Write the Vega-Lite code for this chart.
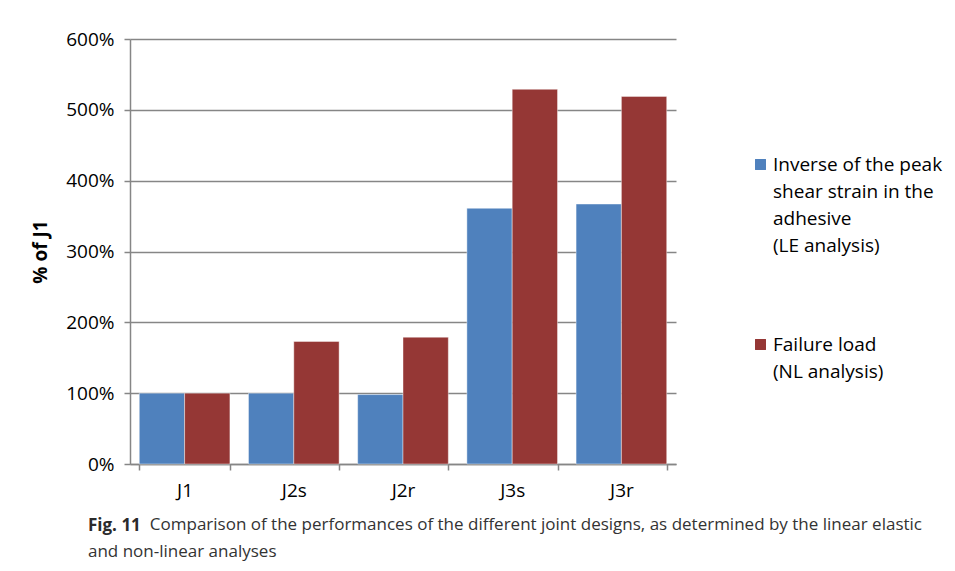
{
  "$schema": "https://vega.github.io/schema/vega-lite/v6.json",
  "width": 546,
  "height": 425,
  "autosize": "none",
  "padding": {"left": 130, "top": 39, "right": 279, "bottom": 107},
  "background": "white",
  "config": {
    "font": "Open Sans",
    "view": {"stroke": null},
    "style": {"guide-label": {"lineHeight": 27}}
  },
  "data": {
    "values": [
      {"joint": "J1", "series": "Inverse of the peak shear strain in the adhesive (LE analysis)", "value": 100},
      {"joint": "J1", "series": "Failure load (NL analysis)", "value": 100},
      {"joint": "J2s", "series": "Inverse of the peak shear strain in the adhesive (LE analysis)", "value": 100},
      {"joint": "J2s", "series": "Failure load (NL analysis)", "value": 173},
      {"joint": "J2r", "series": "Inverse of the peak shear strain in the adhesive (LE analysis)", "value": 98},
      {"joint": "J2r", "series": "Failure load (NL analysis)", "value": 179},
      {"joint": "J3s", "series": "Inverse of the peak shear strain in the adhesive (LE analysis)", "value": 361},
      {"joint": "J3s", "series": "Failure load (NL analysis)", "value": 529},
      {"joint": "J3r", "series": "Inverse of the peak shear strain in the adhesive (LE analysis)", "value": 367},
      {"joint": "J3r", "series": "Failure load (NL analysis)", "value": 519}
    ]
  },
  "title": {
    "text": "Fig. 11",
    "subtitle": [
      "\u200b\u00a0\u00a0\u00a0\u00a0\u00a0\u00a0\u00a0\u00a0\u00a0\u00a0\u00a0\u00a0\u00a0\u00a0Comparison of the performances of the different joint designs, as determined by the linear elastic",
      "and non-linear analyses"
    ],
    "orient": "bottom",
    "anchor": "start",
    "frame": "group",
    "dx": -42,
    "offset": 18,
    "fontSize": 17,
    "fontWeight": "bold",
    "color": "#2b2b2b",
    "subtitleFontSize": 17,
    "subtitleColor": "#333333",
    "subtitleLineHeight": 27,
    "subtitlePadding": -18
  },
  "mark": {"type": "bar", "stroke": "#ffffff", "strokeWidth": 0.6, "strokeOpacity": 0.7},
  "encoding": {
    "x": {
      "field": "joint",
      "type": "nominal",
      "sort": ["J1", "J2s", "J2r", "J3s", "J3r"],
      "scale": {"paddingInner": 0.17, "paddingOuter": 0.085},
      "axis": {
        "title": null,
        "labelAngle": 0,
        "labelFontSize": 19,
        "labelColor": "#000000",
        "labelPadding": 11,
        "tickBand": "extent",
        "tickSize": 6,
        "tickColor": "#868686",
        "tickWidth": 1.5,
        "domainColor": "#868686",
        "domainWidth": 1.5
      }
    },
    "xOffset": {
      "field": "series",
      "sort": ["Inverse of the peak shear strain in the adhesive (LE analysis)", "Failure load (NL analysis)"]
    },
    "y": {
      "field": "value",
      "type": "quantitative",
      "scale": {"domain": [0, 600], "nice": false},
      "axis": {
        "title": "% of J1",
        "titleFontSize": 19,
        "titleFontWeight": "bold",
        "titleColor": "#000000",
        "titlePadding": 15,
        "values": [0, 100, 200, 300, 400, 500, 600],
        "labelExpr": "datum.value + '%'",
        "labelFontSize": 19,
        "labelColor": "#000000",
        "labelPadding": 10,
        "tickSize": 6,
        "tickColor": "#868686",
        "tickWidth": 1.5,
        "domainColor": "#868686",
        "domainWidth": 1.5,
        "grid": true,
        "gridColor": "#868686",
        "gridWidth": 1.5
      }
    },
    "color": {
      "field": "series",
      "type": "nominal",
      "sort": ["Inverse of the peak shear strain in the adhesive (LE analysis)", "Failure load (NL analysis)"],
      "scale": {"range": ["#4f81bd", "#953735"]},
      "legend": {
        "title": null,
        "orient": "none",
        "legendX": 621,
        "legendY": 116,
        "symbolType": "square",
        "symbolSize": 120,
        "symbolStrokeWidth": 0,
        "labelFontSize": 19,
        "labelColor": "#000000",
        "labelLimit": 0,
        "labelOffset": 3,
        "labelBaseline": "middle",
        "rowPadding": 79,
        "labelExpr": "datum.label == 'Failure load (NL analysis)' ? ['Failure load', '(NL analysis)'] : ['Inverse of the peak', 'shear strain in the', 'adhesive', '(LE analysis)']"
      }
    }
  }
}
